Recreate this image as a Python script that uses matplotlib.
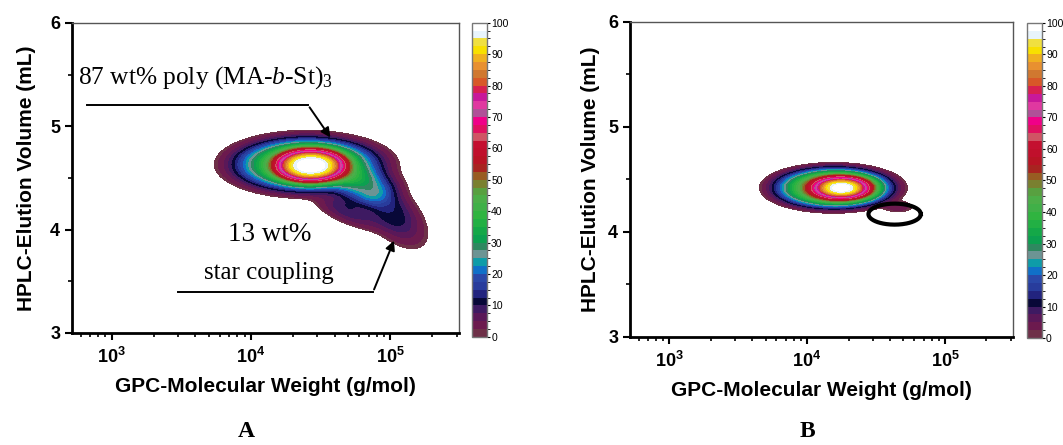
import numpy as np
import matplotlib
matplotlib.use('Agg')
import matplotlib.pyplot as plt
from matplotlib.colors import ListedColormap, BoundaryNorm
from matplotlib.cm import ScalarMappable
from matplotlib.ticker import LogLocator, MultipleLocator, NullFormatter

plt.rcParams['font.family'] = ['Liberation Sans', 'DejaVu Sans']
plt.rcParams['mathtext.fontset'] = 'custom'
plt.rcParams['mathtext.rm'] = 'Liberation Serif'
plt.rcParams['mathtext.bf'] = 'Liberation Sans:bold'
plt.rcParams['mathtext.it'] = 'Liberation Serif:italic'

# colour scale (0-100, 40 steps)
band_colors = ['#6e3048', '#6c1a4e', '#5a1858', '#3e1a62', '#080838', '#22237e',
               '#283c9c', '#2a48a8', '#1070c8', '#0e9ca8', '#6c9494', '#2e8860',
               '#0ca050', '#14a848', '#22b044', '#30b440', '#40b048', '#4cae48',
               '#58a040', '#7a8030', '#985c22', '#a82420', '#b81424', '#c0102c',
               '#c41030', '#d05464', '#e01060', '#f00088', '#b05098', '#e038a0',
               '#c8189a', '#d82050', '#d85828', '#d07830', '#e89030', '#f0b020',
               '#f8e000', '#f0e040', '#e8f4fc', '#ffffff']
levels = np.linspace(0, 100, 41)
cbar_ticks = [0, 10, 20, 30, 40, 50, 60, 70, 80, 90, 100]

# peak components:
# centre (log10 M, V), widths (log10 M, V), height, flatness, tilt (mL per decade)
# A: star polymer plateau + sharp maximum + high-MW shoulder + star-star coupling
peaks_A_logM = [4.40, 4.43, 4.82, 5.00, 4.70]
peaks_A_vol = [4.63, 4.62, 4.40, 4.18, 4.17]
peaks_A_wlogM = [0.49, 0.255, 0.20, 0.20, 0.20]
peaks_A_wvol = [0.245, 0.16, 0.16, 0.22, 0.10]
peaks_A_height = [42, 58, 20, 12, 8]
peaks_A_flat = [4.0, 3.3, 2.5, 2.5, 2.5]
peaks_A_tilt = [0.0, 0.0, 0.0, -0.8, -0.5]
# B: single peak only
peaks_B_logM = [4.19, 4.25, 4.66]
peaks_B_vol = [4.42, 4.42, 4.24]
peaks_B_wlogM = [0.41, 0.22, 0.10]
peaks_B_wvol = [0.185, 0.11, 0.05]
peaks_B_height = [42, 58, 4]
peaks_B_flat = [4.5, 2.5, 2.0]
peaks_B_tilt = [0.0, 0.0, 0.0]

ellipse_B = (4.635, 4.17, 0.19, 0.10)  # centre logM, centre V, half widths

logM = np.linspace(2.7, 5.5, 560)
vol = np.linspace(3.0, 6.0, 450)
LM, VV = np.meshgrid(logM, vol)


def field(cx, cy, wx, wy, h, p, k):
    z = np.zeros_like(LM)
    for a, b, c, d, e, f, s in zip(cx, cy, wx, wy, h, p, k):
        dx = LM - a
        dy = (VV - b) - s * dx
        q = (dx / c) ** 2 + (dy / d) ** 2
        z += e * np.exp(-q ** (f / 2))
    return z / z.max() * 100


zA = field(peaks_A_logM, peaks_A_vol, peaks_A_wlogM, peaks_A_wvol,
           peaks_A_height, peaks_A_flat, peaks_A_tilt)
zB = field(peaks_B_logM, peaks_B_vol, peaks_B_wlogM, peaks_B_wvol,
           peaks_B_height, peaks_B_flat, peaks_B_tilt)

cmap = ListedColormap(band_colors)
norm = BoundaryNorm(levels, cmap.N)
fill_levels = np.concatenate([[1.5], levels[1:]])

fig = plt.figure(figsize=(10.63, 4.45), dpi=100)
axA = fig.add_axes([0.0677, 0.2517, 0.364, 0.697])
axB = fig.add_axes([0.5927, 0.2427, 0.360, 0.708])
caxA = fig.add_axes([0.444, 0.243, 0.0141, 0.706])
caxB = fig.add_axes([0.966, 0.2404, 0.0141, 0.708])

for ax, z, cax, ylx in [(axA, zA, caxA, -0.093), (axB, zB, caxB, -0.078)]:
    ax.contourf(10 ** LM, VV, z, levels=fill_levels, cmap=cmap, norm=norm)
    ax.set_xscale('log')
    ax.set_xlim(520, 3.1e5)
    ax.set_ylim(3, 6)
    ax.set_yticks([3, 4, 5, 6])
    ax.yaxis.set_minor_locator(MultipleLocator(0.5))
    ax.xaxis.set_major_locator(LogLocator(base=10, numticks=10))
    ax.xaxis.set_minor_locator(LogLocator(base=10, subs=np.arange(2, 10), numticks=20))
    ax.xaxis.set_minor_formatter(NullFormatter())
    ax.tick_params(which='major', direction='out', length=5, width=1.5, labelsize=13)
    ax.tick_params(axis='x', which='major', pad=5)
    ax.tick_params(which='minor', direction='out', length=3, width=1.2)
    for t in ax.get_yticklabels():
        t.set_fontweight('bold')
    ax.set_xticks([1e3, 1e4, 1e5])
    ax.set_xticklabels([r'$\mathbf{10^3}$', r'$\mathbf{10^4}$', r'$\mathbf{10^5}$'])
    for s in ['left', 'bottom']:
        ax.spines[s].set_linewidth(2)
    for s in ['top', 'right']:
        ax.spines[s].set_linewidth(1)
        ax.spines[s].set_color('#555555')
    ax.set_xlabel('GPC-Molecular Weight (g/mol)', fontsize=15, fontweight='bold', labelpad=7)
    ax.set_ylabel('HPLC-Elution Volume (mL)', fontsize=15, fontweight='bold')
    ax.yaxis.set_label_coords(ylx, 0.5)

    cb = fig.colorbar(ScalarMappable(norm=norm, cmap=cmap), cax=cax, ticks=cbar_ticks)
    cb.outline.set_edgecolor('#777777')
    cb.outline.set_linewidth(1)
    cax.tick_params(labelsize=7.5, length=2, width=0.8, pad=1)

fig.text(0.232, 0.03, 'A', ha='center', va='center', fontsize=17, fontweight='bold',
         family='Liberation Serif')
fig.text(0.760, 0.03, 'B', ha='center', va='center', fontsize=17, fontweight='bold',
         family='Liberation Serif')

# annotations in A
serif = dict(family='Liberation Serif', color='k')
axA.text(0.015, 0.823, r'87 wt% poly (MA-$\mathit{b}$-St)$_\mathregular{3}$',
         transform=axA.transAxes, ha='left', va='center', fontsize=18.3, **serif)
axA.plot([0.039, 0.610], [0.735, 0.735], transform=axA.transAxes, color='k', lw=1.4)
axA.annotate('', xy=(0.672, 0.623), xytext=(0.610, 0.735),
             xycoords='axes fraction', textcoords='axes fraction',
             arrowprops=dict(arrowstyle='-|>', color='k', lw=1.4, mutation_scale=14))
axA.text(0.512, 0.316, '13 wt%', transform=axA.transAxes, ha='center', va='center',
         fontsize=19.5, **serif)
axA.text(0.509, 0.194, 'star coupling', transform=axA.transAxes, ha='center', va='center',
         fontsize=18, **serif)
axA.plot([0.274, 0.778], [0.132, 0.132], transform=axA.transAxes, color='k', lw=1.4)
axA.annotate('', xy=(0.835, 0.306), xytext=(0.778, 0.132),
             xycoords='axes fraction', textcoords='axes fraction',
             arrowprops=dict(arrowstyle='-|>', color='k', lw=1.4, mutation_scale=14))

# ellipse marking the missing coupling product in B
t = np.linspace(0, 2 * np.pi, 200)
cx, cy, rx, ry = ellipse_B
axB.plot(10 ** (cx + rx * np.cos(t)), cy + ry * np.sin(t), color='k', lw=3)

fig.savefig('out.png', dpi=100)
